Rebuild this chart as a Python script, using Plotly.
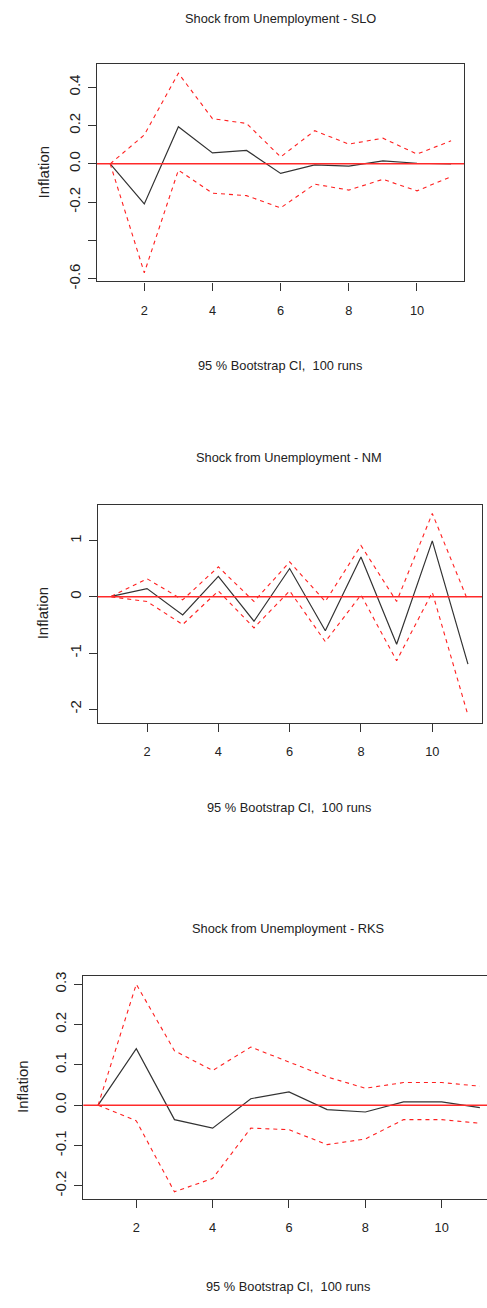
import plotly.graph_objects as go

steps = list(range(1, 12))

# Shock from Unemployment - SLO
slo_irf = [0.0, -0.209, 0.194, 0.057, 0.070, -0.050, -0.005, -0.012, 0.015, 0.003, 0.0]
slo_upper = [0.0, 0.151, 0.473, 0.236, 0.211, 0.036, 0.173, 0.103, 0.134, 0.051, 0.120]
slo_lower = [0.0, -0.569, -0.033, -0.153, -0.166, -0.230, -0.106, -0.137, -0.081, -0.141, -0.067]

# Shock from Unemployment - NM
nm_irf = [0.01, 0.147, -0.323, 0.364, -0.434, 0.505, -0.604, 0.710, -0.845, 0.998, -1.197]
nm_upper = [0.01, 0.323, -0.053, 0.534, -0.082, 0.622, -0.082, 0.915, -0.082, 1.485, -0.070]
nm_lower = [0.0, -0.082, -0.493, 0.106, -0.552, 0.106, -0.798, 0.035, -1.138, 0.082, -2.107]

# Shock from Unemployment - RKS
rks_irf = [0.0, 0.140, -0.036, -0.057, 0.016, 0.033, -0.011, -0.017, 0.008, 0.008, -0.006]
rks_upper = [0.0, 0.300, 0.135, 0.086, 0.144, 0.107, 0.070, 0.042, 0.056, 0.056, 0.047]
rks_lower = [0.0, -0.039, -0.215, -0.182, -0.057, -0.061, -0.098, -0.084, -0.036, -0.036, -0.045]

x_ticks = [2, 4, 6, 8, 10]
slo_yticks = [0.4, 0.2, 0.0, -0.2, -0.4, -0.6]
slo_ylabels = ["0.4", "0.2", "0.0", "-0.2", "", "-0.6"]
nm_yticks = [1, 0, -1, -2]
nm_ylabels = ["1", "0", "-1", "-2"]
rks_yticks = [0.3, 0.2, 0.1, 0.0, -0.1, -0.2]
rks_ylabels = ["0.3", "0.2", "0.1", "0.0", "-0.1", "-0.2"]

titles = ["Shock from Unemployment - SLO", "Shock from Unemployment - NM",
          "Shock from Unemployment - RKS"]
x_label = "95 % Bootstrap CI,&nbsp; 100 runs"
y_label = "Inflation"

W, H = 487, 1308
FONT = "Liberation Sans, Arial, sans-serif"
FS_H = 12.8   # horizontal text
FS_V = 15     # rotated text
TXT = "#222222"

panels = [
    dict(irf=slo_irf, up=slo_upper, lo=slo_lower, yt=slo_yticks, yl=slo_ylabels,
         box=(97, 464, 61, 280), xr=[0.6125, 11.379], yr=[-0.614, 0.519],
         title_xy=(280, 15), xlab_xy=(280, 365), ylab_xy=(43, 170), mirror_y=True),
    dict(irf=nm_irf, up=nm_upper, lo=nm_lower, yt=nm_yticks, yl=nm_ylabels,
         box=(97.7, 482, 505.7, 725.3), xr=[0.617, 11.394], yr=[-2.24, 1.635],
         title_xy=(289, 458), xlab_xy=(289, 811), ylab_xy=(42, 615), mirror_y=True),
    dict(irf=rks_irf, up=rks_upper, lo=rks_lower, yt=rks_yticks, yl=rks_ylabels,
         box=(83.3, 487, 981, 1206), xr=[0.612, 11.187], yr=[-0.2327, 0.3204],
         title_xy=(288, 933), xlab_xy=(288, 1294), ylab_xy=(23, 1093), mirror_y=False),
]

fig = go.Figure()
annotations = []
shapes = []
layout_axes = {}

for i, p in enumerate(panels, start=1):
    xa = "x" if i == 1 else f"x{i}"
    ya = "y" if i == 1 else f"y{i}"
    for vals, color, dash, width in [(p["irf"], "#333333", "solid", 1.2),
                                     (p["up"], "#ff2020", "4px,4px", 1.1),
                                     (p["lo"], "#ff2020", "4px,4px", 1.1)]:
        fig.add_trace(go.Scatter(x=steps, y=vals, mode="lines", xaxis=xa, yaxis=ya,
                                 line=dict(color=color, width=width, dash=dash),
                                 showlegend=False, hoverinfo="skip"))
    l, r, t, b = p["box"]
    xkey = "xaxis" if i == 1 else f"xaxis{i}"
    ykey = "yaxis" if i == 1 else f"yaxis{i}"
    layout_axes[xkey] = dict(
        domain=[l / W, min(r / W, 1.0)], range=p["xr"], anchor=ya,
        tickvals=x_ticks, ticktext=[str(v) for v in x_ticks],
        ticks="outside", ticklen=8, tickcolor="#333333", tickwidth=1,
        showline=True, linecolor="#333333", linewidth=1.2, mirror=True,
        showgrid=False, zeroline=False, ticklabelstandoff=9,
        tickfont=dict(family=FONT, size=FS_H, color=TXT))
    layout_axes[ykey] = dict(
        domain=[1 - b / H, 1 - t / H], range=p["yr"], anchor=xa,
        tickvals=p["yt"], ticktext=p["yl"], tickangle=-90,
        ticks="outside", ticklen=8, tickcolor="#333333", tickwidth=1,
        showline=True, linecolor="#333333", linewidth=1.2, mirror=p["mirror_y"],
        showgrid=False, zeroline=False, ticklabelstandoff=2,
        tickfont=dict(family=FONT, size=FS_V, color=TXT))
    shapes.append(dict(type="line", xref=f"{xa} domain", yref=ya, x0=0, x1=1, y0=0, y1=0,
                       line=dict(color="#ff2a2a", width=1.5), layer="above"))
    for (px, py), text, ang, fs in [(p["title_xy"], titles[i - 1], 0, FS_H),
                                    (p["xlab_xy"], x_label, 0, FS_H),
                                    (p["ylab_xy"], y_label, -90, FS_V)]:
        annotations.append(dict(x=px / W, y=1 - py / H, xref="paper", yref="paper",
                                text=text, showarrow=False, textangle=ang,
                                xanchor="center", yanchor="middle",
                                font=dict(family=FONT, size=fs, color=TXT)))

fig.update_layout(width=W, height=H, margin=dict(l=0, r=0, t=0, b=0),
                  paper_bgcolor="white", plot_bgcolor="white",
                  annotations=annotations, shapes=shapes, **layout_axes)

fig.write_html("out.html")
